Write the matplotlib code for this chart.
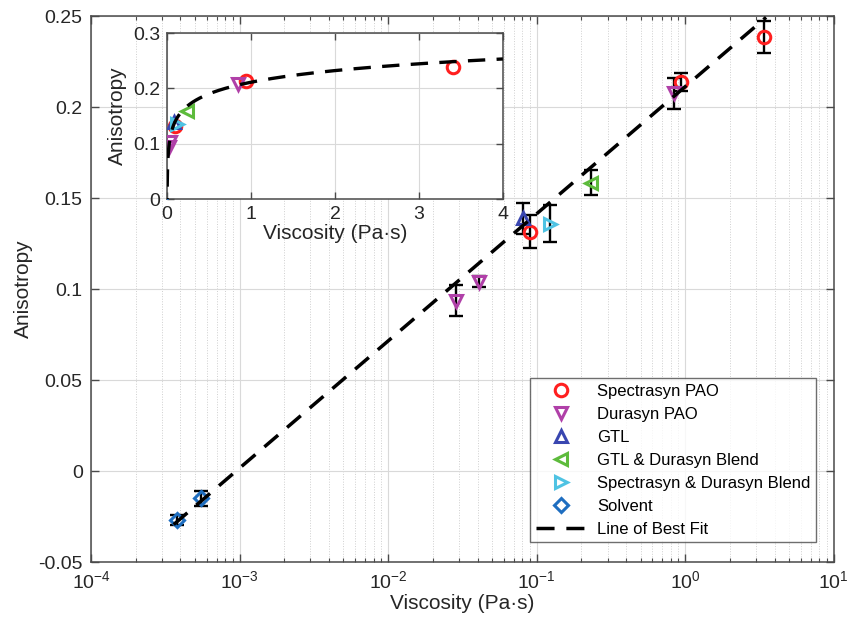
import matplotlib
matplotlib.use("Agg")
import matplotlib.pyplot as plt
import numpy as np
from matplotlib.ticker import FuncFormatter, LogLocator

plt.rcParams['font.family'] = ['Liberation Sans', 'DejaVu Sans']

# data (viscosity in Pa*s, anisotropy, error)
spec_x = [0.0895, 0.94, 3.41]
spec_y = [0.1315, 0.2139, 0.2386]
spec_e = [0.009, 0.005, 0.009]

dura_x = [0.0288, 0.0408, 0.845]
dura_y = [0.0935, 0.104, 0.2077]
dura_e = [0.0085, 0.003, 0.0085]

gtl_x = [0.0807]
gtl_y = [0.1388]
gtl_e = [0.0085]

gtl_dura_x = [0.233]
gtl_dura_y = [0.1585]
gtl_dura_e = [0.007]

spec_dura_x = [0.122]
spec_dura_y = [0.136]
spec_dura_e = [0.010]

solv_x = [3.77e-4, 5.54e-4]
solv_y = [-0.0269, -0.015]
solv_e = [0.003, 0.004]

# line of best fit: y = a + b*log10(x)
fit_a = 0.2113
fit_b = 0.0699
fit_xmin = 3.6e-4
fit_xmax = 3.5

series = [
    (spec_x, spec_y, spec_e, 'o', '#FF1F1F', 'Spectrasyn PAO'),
    (dura_x, dura_y, dura_e, 'v', '#B040A8', 'Durasyn PAO'),
    (gtl_x, gtl_y, gtl_e, '^', '#3946B0', 'GTL'),
    (gtl_dura_x, gtl_dura_y, gtl_dura_e, '<', '#5DBB3C', 'GTL & Durasyn Blend'),
    (spec_dura_x, spec_dura_y, spec_dura_e, '>', '#4FC3E3', 'Spectrasyn & Durasyn Blend'),
    (solv_x, solv_y, solv_e, 'D', '#1E6EC0', 'Solvent'),
]

fig = plt.figure(figsize=(8.48, 6.26), dpi=100)
ax = fig.add_axes([0.1073, 0.1022, 0.876, 0.872])

spine_col = '#4a4a4a'
txt_col = '#262626'

# error bars first (black)
for xs, ys, es, m, c, lab in series:
    ax.errorbar(xs, ys, yerr=es, fmt='none', ecolor='black', elinewidth=1.7,
                capsize=4.8, capthick=1.7, zorder=3)

handles = []
for xs, ys, es, m, c, lab in series:
    ms = 7 if m == 'D' else 9
    h, = ax.plot(xs, ys, linestyle='none', marker=m, markersize=ms,
                 markerfacecolor='none', markeredgecolor=c, markeredgewidth=2.2,
                 label=lab, zorder=4)
    handles.append(h)

xfit = np.geomspace(fit_xmin, fit_xmax, 200)
yfit = fit_a + fit_b * np.log10(xfit)
hl, = ax.plot(xfit, yfit, color='black', ls='--', lw=2.5, dashes=(5.2, 3.4),
              label='Line of Best Fit', zorder=5)
handles.append(hl)

ax.set_xscale('log')
ax.set_xlim(1e-4, 10)
ax.set_ylim(-0.05, 0.25)
ax.set_yticks(np.arange(-0.05, 0.2501, 0.05))
ax.yaxis.set_major_formatter(FuncFormatter(lambda v, p: '%g' % round(v, 3)))
ax.xaxis.set_major_locator(LogLocator(base=10, numticks=10))
ax.xaxis.set_minor_locator(LogLocator(base=10, subs=np.arange(2, 10), numticks=10))

ax.grid(True, which='major', color='#d9d9d9', lw=0.8, ls='-')
ax.grid(True, which='minor', axis='x', color='#cfcfcf', lw=0.7, ls=':')
ax.set_axisbelow(True)
ax.tick_params(which='both', direction='in', top=True, right=True,
               labelsize=14, colors=txt_col, pad=6)
ax.tick_params(which='major', length=6, width=1, color=spine_col)
ax.tick_params(which='minor', length=3, width=0.8, color=spine_col)
for s in ax.spines.values():
    s.set_color(spine_col)
    s.set_linewidth(1.1)
ax.set_xlabel('Viscosity (Pa·s)', fontsize=15, color=txt_col, labelpad=1)
ax.set_ylabel('Anisotropy', fontsize=15, color=txt_col, labelpad=4)

leg = ax.legend(handles=handles, loc='lower right', bbox_to_anchor=(0.9765, 0.036),
                fontsize=12, frameon=True, fancybox=False, edgecolor=spine_col,
                handlelength=3.0, labelspacing=0.48, borderpad=0.35,
                handletextpad=0.7, borderaxespad=0)
leg.get_frame().set_linewidth(1.0)

# inset
ins = fig.add_axes([0.197, 0.682, 0.396, 0.265])
for xs, ys, es, m, c, lab in series:
    ms = 7 if m == 'D' else 9
    ins.plot(xs, ys, linestyle='none', marker=m, markersize=ms,
             markerfacecolor='none', markeredgecolor=c, markeredgewidth=2.2,
             zorder=4, clip_on=True)
xin = np.geomspace(fit_xmin, 4, 400)
ins.plot(xin, fit_a + fit_b * np.log10(xin), color='black', ls='--', lw=2.4,
         dashes=(5.2, 3.4), zorder=5)
ins.set_xlim(0, 4)
ins.set_ylim(0, 0.3)
ins.set_xticks([0, 1, 2, 3, 4])
ins.set_yticks([0, 0.1, 0.2, 0.3])
ins.yaxis.set_major_formatter(FuncFormatter(lambda v, p: '%g' % round(v, 3)))
ins.grid(True, color='#d9d9d9', lw=0.8)
ins.set_axisbelow(True)
ins.tick_params(direction='in', top=True, right=True, length=5, width=1,
                color=spine_col, labelsize=14, colors=txt_col, pad=5)
for s in ins.spines.values():
    s.set_color(spine_col)
    s.set_linewidth(1.1)
ins.set_xlabel('Viscosity (Pa·s)', fontsize=15, color=txt_col, labelpad=1)
ins.set_ylabel('Anisotropy', fontsize=15, color=txt_col, labelpad=4)

fig.savefig('out.png', dpi=100, facecolor='white')
